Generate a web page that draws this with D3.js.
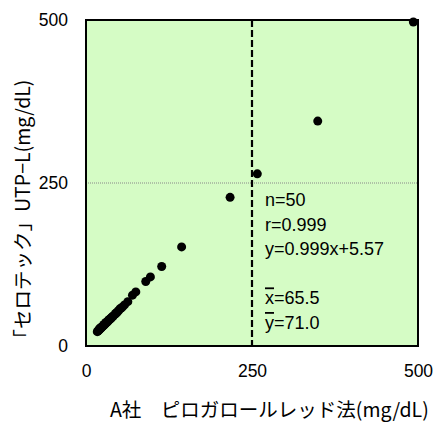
<!DOCTYPE html>
<html><head><meta charset="utf-8">
<script src="https://cdn.jsdelivr.net/npm/d3@7"></script>
<style>body{margin:0;background:#fff;} svg{display:block;}</style>
</head><body>
<svg id="c" width="442" height="423"></svg>
<script>
const xValues = [17,18,19,20,20,21,22,22,23,24, 25,26,27,27,28,29,30,30,31,32,
  32,33,34,35,36,37,38,39,40,41, 44,45,46,47,49,51,53,55,58,63,
  70,75,90,97,114,144,217,258,349,493];
const yValues = [22,23,24,25,26,26,27,28,28,29, 30,31,32,33,33,34,35,36,36,37,
  37,38,40,40,41,42,43,44,45,46, 49,50,51,52,54,57,58,60,63,68,
  78,83,99,106,122,152,228,264,345,497];
const tickValues = [0, 250, 500];
const statLines = ["n=50", "r=0.999", "y=0.999x+5.57", "", "x=65.5", "y=71.0"];
const xTitle = "A社　ピロガロールレッド法(mg/dL)";
const yTitle = "「セロテック」UTP−L(mg/dL)";

const svg = d3.select("#c");
const L = 86, R = 418, T = 20, B = 346;
const x = d3.scaleLinear().domain([0, 500]).range([L, R]);
const y = d3.scaleLinear().domain([0, 500]).range([B, T]);

svg.append("rect").attr("x", L).attr("y", T).attr("width", R - L).attr("height", B - T)
  .attr("fill", "#d5fcc5");

// reference lines
svg.append("line").attr("x1", L).attr("x2", R).attr("y1", y(250)).attr("y2", y(250))
  .attr("stroke", "#888").attr("stroke-width", 1).attr("stroke-dasharray", "1,1");
svg.append("line").attr("x1", x(250)).attr("x2", x(250)).attr("y1", T).attr("y2", B)
  .attr("stroke", "#000").attr("stroke-width", 2.2).attr("stroke-dasharray", "7,3");

// points
svg.append("g").selectAll("circle").data(xValues.map((v, i) => [v, yValues[i]])).join("circle")
  .attr("cx", d => x(d[0])).attr("cy", d => y(d[1])).attr("r", 4.5).attr("fill", "#000");

svg.append("rect").attr("x", L).attr("y", T).attr("width", R - L).attr("height", B - T)
  .attr("fill", "none").attr("stroke", "#000").attr("stroke-width", 2);

// axes
const font = "'Liberation Sans', Arial, sans-serif";
const xa = svg.append("g").attr("transform", `translate(0,${B})`)
  .call(d3.axisBottom(x).tickValues(tickValues).tickSize(0).tickPadding(19));
const ya = svg.append("g").attr("transform", `translate(${L},0)`)
  .call(d3.axisLeft(y).tickValues(tickValues).tickSize(0).tickPadding(18));
[xa, ya].forEach(a => {
  a.select(".domain").remove();
  a.selectAll("text").attr("font-family", font).attr("font-size", 17.5).attr("fill", "#000");
});

// stats
const st = svg.append("text").attr("font-family", font).attr("font-size", 18).attr("fill", "#000");
statLines.forEach((s, i) => {
  const t = st.append("tspan").attr("x", 265).attr("y", 206 + i * 24.6);
  if (i >= 4) {
    t.append("tspan").text(s[0]).style("text-decoration", "overline");
    t.append("tspan").text(s.slice(1));
  } else t.text(s);
});

// titles
const jp = "'Noto Sans CJK JP', sans-serif";
svg.append("text").attr("x", 110).attr("y", 417).attr("font-family", jp).attr("font-size", 19.5)
  .attr("fill", "#000").text(xTitle);
svg.append("text").attr("transform", "translate(30,214) rotate(-90)").attr("text-anchor", "middle")
  .attr("font-family", jp).attr("font-size", 19.5).attr("fill", "#000").text(yTitle);
</script>
</body></html>
